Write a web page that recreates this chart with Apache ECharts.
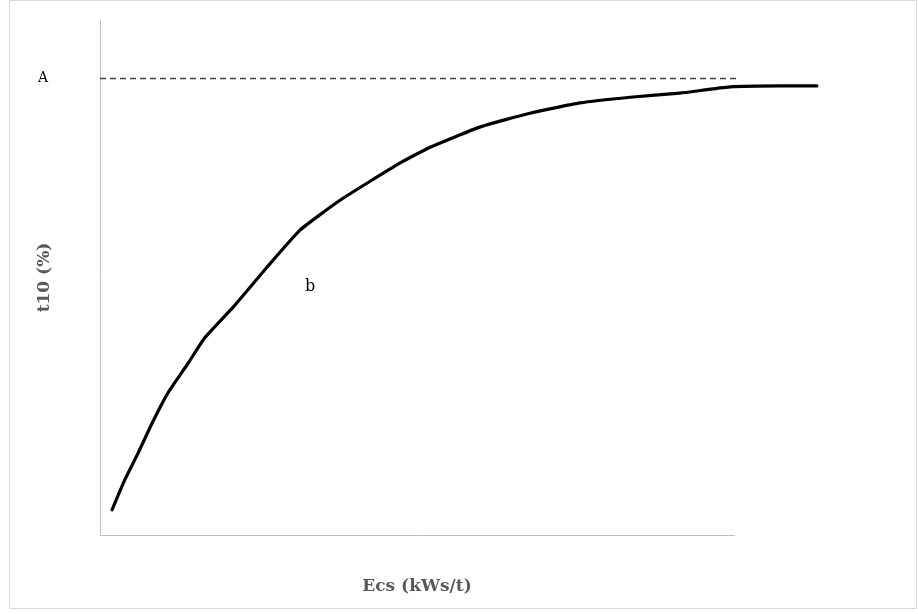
<!DOCTYPE html>
<html>
<head>
<meta charset="utf-8">
<script src="https://cdn.jsdelivr.net/npm/echarts@6/dist/echarts.min.js"></script>
<style>html,body{margin:0;padding:0;background:#fff;}#c{width:918px;height:614px;}</style>
</head>
<body>
<div id="c"></div>
<script>
// Data (arbitrary units: x 0-100 spans the drawn x axis, y 0-100 spans the y axis)
const ecsValues = [1.9, 3.9, 6.0, 8.2, 10.7, 13.9, 16.5, 21.0, 26.3, 31.5, 37.8, 47.2, 52.0, 59.8, 67.7, 75.6, 83.5, 91.3, 99.2, 107.1, 112.9];
const t10Values = [4.9, 10.7, 15.9, 21.7, 27.6, 33.4, 38.3, 44.3, 52.0, 59.2, 65.0, 72.2, 75.3, 79.2, 81.9, 83.9, 85.0, 85.8, 87.0, 87.2, 87.2];
const xAxisEnd = 100;
const dashedEnd = 100.5;
const asymptoteA = 88.6;
const asymptoteLabel = 'A';
const curveLabel = 'b';
const curveLabelPos = [33.1, 48.2];
const xName = 'Ecs (kWs/t)';
const yName = 't10 (%)';

const chart = echarts.init(document.getElementById('c'));
const serif = '"DejaVu Serif", "Liberation Serif", serif';
const xMax = 120;
chart.setOption({
  animation: false,
  backgroundColor: '#fff',
  grid: { left: 100, top: 20, width: 635 * xMax / xAxisEnd, height: 515 },
  graphic: [{
    type: 'rect', shape: { x: 9.5, y: 0.5, width: 907, height: 608 },
    style: { fill: 'none', stroke: '#d9d9d9', lineWidth: 1 }, silent: true
  }, {
    type: 'text', x: 417, y: 587,
    style: { text: xName, font: 'bold 17px ' + serif, fill: '#595959',
             textAlign: 'center', textVerticalAlign: 'middle' }
  }],
  xAxis: {
    type: 'value', min: 0, max: xMax,
    axisLine: { show: false },
    axisTick: { show: false }, axisLabel: { show: false }, splitLine: { show: false }
  },
  yAxis: {
    type: 'value', min: 0, max: 100,
    name: yName, nameLocation: 'middle', nameGap: 47, nameRotate: 90,
    nameTextStyle: { fontFamily: serif, fontWeight: 'bold', fontSize: 17, color: '#595959' },
    axisLine: { show: true, lineStyle: { color: '#bfbfbf', width: 1 } },
    axisTick: { show: false }, axisLabel: { show: false }, splitLine: { show: false }
  },
  series: [{
    type: 'line',
    data: ecsValues.map((x, i) => [x, t10Values[i]]),
    smooth: 0.15,
    showSymbol: false,
    lineStyle: { color: '#000', width: 3.2, cap: 'round', join: 'round' },
    markLine: {
      silent: true, symbol: 'none',
      data: [
        [{ coord: [0, asymptoteA],
           lineStyle: { color: '#404040', type: [6, 4], width: 1.3 },
           label: { show: true, position: 'start', distance: 52, formatter: asymptoteLabel,
                    fontFamily: serif, fontSize: 14, color: '#000' } },
         { coord: [dashedEnd, asymptoteA] }],
        [{ coord: [0, 0], lineStyle: { color: '#bfbfbf', type: 'solid', width: 1 },
           label: { show: false } },
         { coord: [xAxisEnd, 0] }]
      ]
    },
    markPoint: {
      silent: true, symbol: 'circle', symbolSize: 0,
      label: { show: true, formatter: curveLabel, fontFamily: serif, fontSize: 16, color: '#000' },
      data: [{ coord: curveLabelPos }]
    }
  }]
});
</script>
</body>
</html>
